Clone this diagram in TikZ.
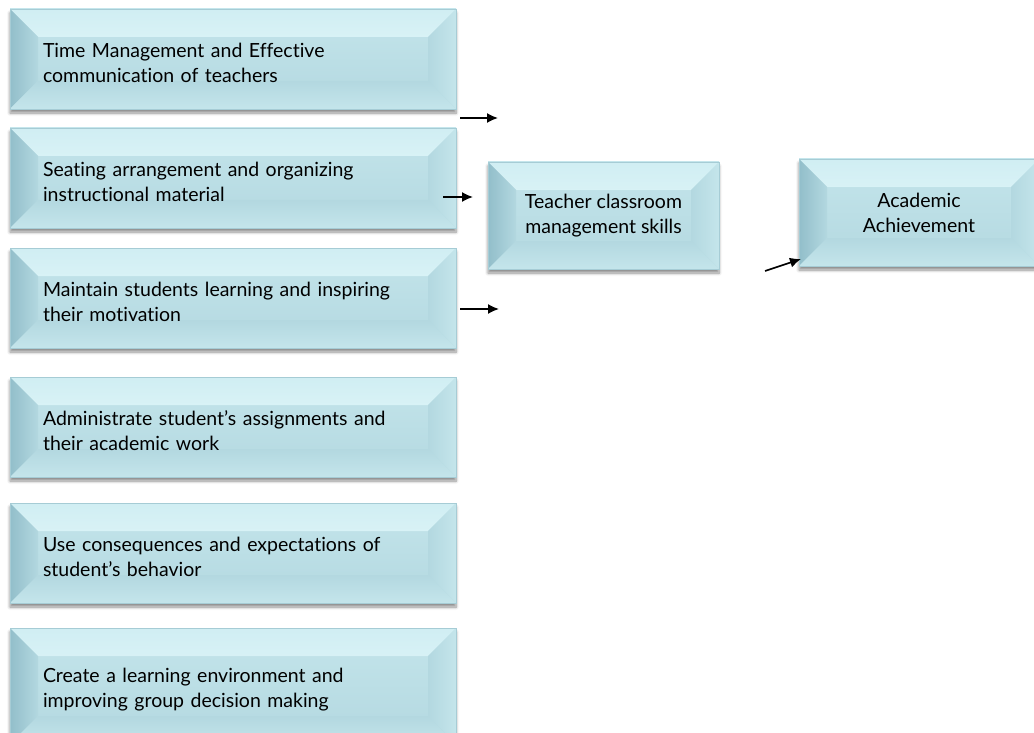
\documentclass[tikz,border=0pt]{standalone}
\usepackage{fontspec}
\setmainfont{Lato}[Ligatures=NoCommon]
\usetikzlibrary{arrows.meta}
\usetikzlibrary{shadows.blur}
\definecolor{boxface}{HTML}{B3D8E0}
\definecolor{boxtop}{HTML}{C4E5EB}
\definecolor{boxedge}{HTML}{A6CCD5}
\definecolor{bevtop}{HTML}{D0EEF3}
\definecolor{bevlight}{HTML}{EEFCFD}
\definecolor{bevdark}{HTML}{92BECA}
\definecolor{bevright}{HTML}{C4E5EB}
\tikzset{>={Latex[length=11pt,width=10pt]}}
\tikzset{
  link/.style={->, line width=1.6pt},
  bevel/.style={rectangle, draw=boxedge, line width=0.6pt, top color=boxtop, bottom color=boxface,
    inner sep=0pt, font=\fontsize{19.5}{25}\selectfont,
    blur shadow={shadow xshift=0pt, shadow yshift=-4pt, shadow blur radius=3pt, shadow blur steps=6, shadow opacity=45},
    path picture={
      \def\bv{28}
      % top
      \shade[top color=bevtop, bottom color=bevlight] (path picture bounding box.north west) -- (path picture bounding box.north east)
        -- ([shift={(-\bv,\bv)}]path picture bounding box.north east) -- ([shift={(\bv,\bv)}]path picture bounding box.north west) -- cycle;
      % left
      \shade[left color=bevdark, right color=boxface] (path picture bounding box.north west) -- ([shift={(\bv,\bv)}]path picture bounding box.north west)
        -- ([shift={(\bv,-\bv)}]path picture bounding box.south west) -- (path picture bounding box.south west) -- cycle;
      % right
      \shade[left color=boxface, right color=bevright] (path picture bounding box.north east) -- ([shift={(-\bv,\bv)}]path picture bounding box.north east)
        -- ([shift={(-\bv,-\bv)}]path picture bounding box.south east) -- (path picture bounding box.south east) -- cycle;
      % bottom
      \shade[top color=boxface, bottom color=bevright] (path picture bounding box.south west) -- (path picture bounding box.south east)
        -- ([shift={(-\bv,-\bv)}]path picture bounding box.south east) -- ([shift={(\bv,-\bv)}]path picture bounding box.south west) -- cycle;
    }},
  factor/.style={bevel, minimum width=446, minimum height=100, text width=380, align=left,
    execute at begin node=\rule{0pt}{22pt}},
  hub/.style={bevel, minimum height=107, align=center}
}

\begin{document}
\begin{tikzpicture}[x=1pt,y=-1pt]
  \useasboundingbox (0,0) rectangle (1034,733);
  \clip (0,0) rectangle (1034,733);
  \def\lx{233}

  % factors on the left
  \node[factor] (timecom) at (\lx,59) {Time Management and Effective\\communication of teachers};
  \node[factor] (seating) at (\lx,178) {Seating arrangement and organizing\\instructional material};
  \node[factor] (motiv) at (\lx,298) {Maintain students learning and inspiring\\their motivation};
  \node[factor] (assign) at (\lx,427) {Administrate student’s assignments and\\their academic work};
  \node[factor] (conseq) at (\lx,553) {Use consequences and expectations of\\student’s behavior};
  \node[factor, minimum height=116] (environ) at (\lx,686) {Create a learning environment and\\improving group decision making};

  % skills and outcome
  \node[hub, minimum width=231] (skills) at (603.5,215.5) {Teacher classroom\\management skills};
  \node[hub, minimum width=240] (achieve) at (919,212.5) {Academic\\Achievement};

  % arrows
  \coordinate (a1) at (460,118); \coordinate (b1) at (498,118);
  \coordinate (a2) at (443,197); \coordinate (b2) at (473,197);
  \coordinate (a3) at (460,309); \coordinate (b3) at (499,309);
  \coordinate (a4) at (765,271); \coordinate (b4) at (801,259);
  \draw[link] (a1) -- (b1);
  \draw[link] (a2) -- (b2);
  \draw[link] (a3) -- (b3);
  \draw[link] (a4) -- (b4);
\end{tikzpicture}
\end{document}
